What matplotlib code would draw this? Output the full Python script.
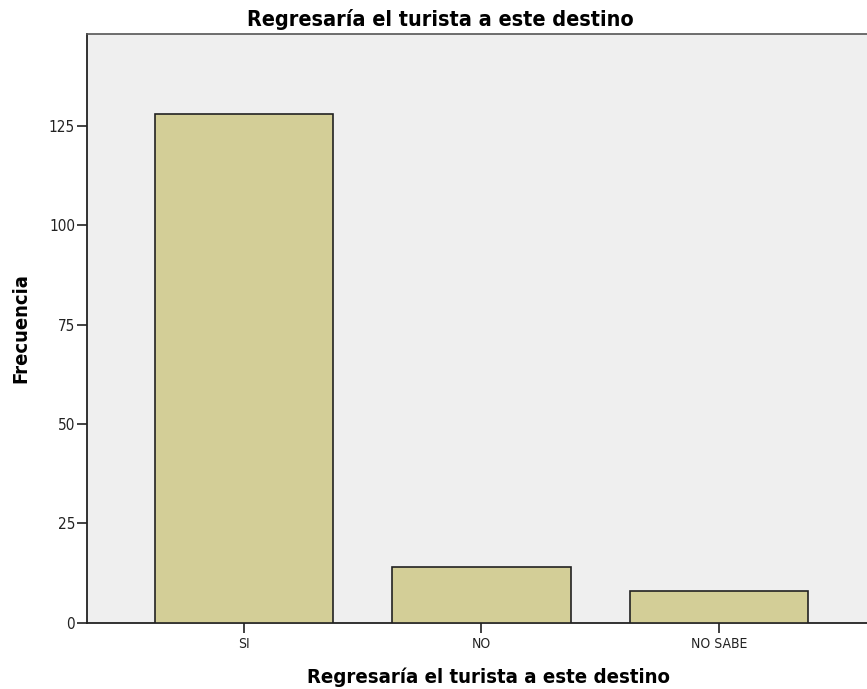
import matplotlib
matplotlib.use("Agg")
import matplotlib.pyplot as plt

categories = ["SI", "NO", "NO SABE"]
values = [128, 14, 8]
yticks = [0, 25, 50, 75, 100, 125]

plt.rcParams['font.family'] = ['DejaVu Sans']

fig = plt.figure(figsize=(8.67, 6.89), dpi=100)
ax = fig.add_axes([0.1003, 0.0958, 0.8997, 0.8549])
ax.set_facecolor("#EFEFEF")

x = list(range(len(categories)))
ax.bar(x, values, width=0.75, color="#D3CE97", edgecolor="#222222", linewidth=1.2, zorder=3)

ax.set_xlim(-0.661, 2.623)
ax.set_ylim(0, 148)
ax.set_yticks(yticks)
ax.set_yticklabels([str(v) for v in yticks], fontsize=11, fontstretch='condensed', color="#222222")
ax.set_xticks(x)
ax.set_xticklabels(categories, fontsize=10, fontstretch='condensed', color="#222222")
ax.tick_params(axis='y', length=7, width=1.3, pad=1.5, color="#333333")
ax.tick_params(axis='x', length=7, width=1.3, pad=3, color="#333333")

for s in ['left', 'bottom']:
    ax.spines[s].set_color("#222222")
    ax.spines[s].set_linewidth(1.3)
ax.spines['top'].set_color("#555555")
ax.spines['top'].set_linewidth(1.2)
ax.spines['right'].set_visible(False)

fig.text(0.5075, 1 - 26 / 689, "Regresaría el turista a este destino", ha='center', va='baseline',
         fontsize=15.5, fontweight='bold', fontstretch='condensed')
fig.text(0.564, 1 - 683 / 689, "Regresaría el turista a este destino", ha='center', va='baseline',
         fontsize=14.6, fontweight='bold', fontstretch='condensed')
fig.text(0.024, 0.524, "Frecuencia", ha='center', va='center', rotation=90,
         fontsize=14.5, fontweight='bold', fontstretch='condensed')

fig.savefig("out.png", dpi=100, facecolor="white")
